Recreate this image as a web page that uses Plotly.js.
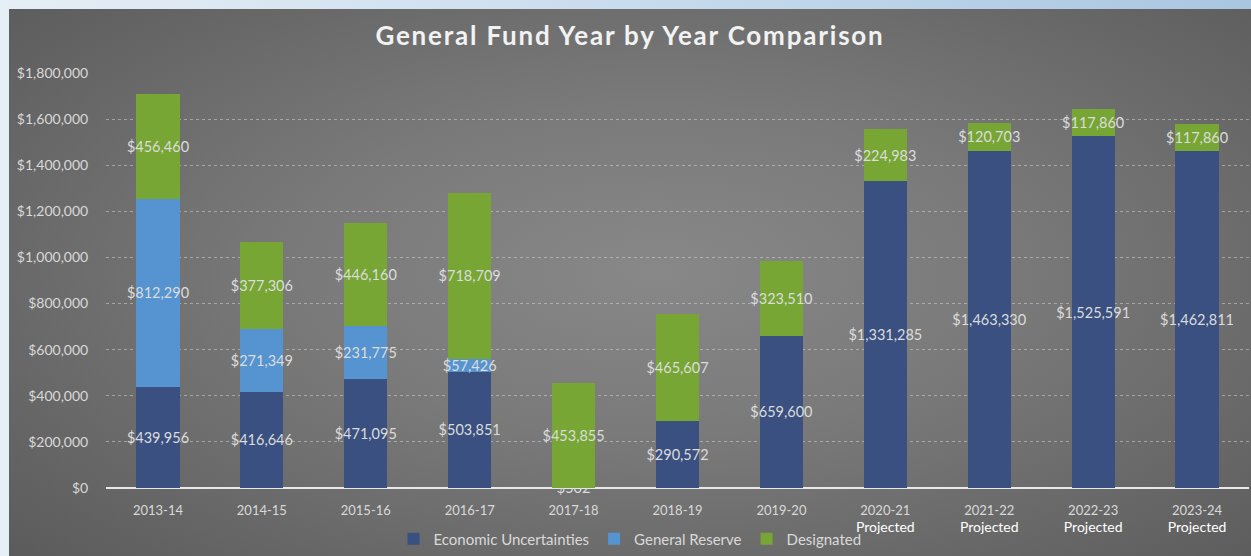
<!DOCTYPE html>
<html>
<head>
<meta charset="utf-8">
<script src="https://cdn.plot.ly/plotly-3.0.1.min.js"></script>
<style>
html, body { margin:0; padding:0; width:1251px; height:556px; overflow:hidden;
  background: linear-gradient(to right, #e6eef6, #cfe0ef 40%, #a9c6e1); }
#chart { position:absolute; left:9px; top:9px; width:1242px; height:547px;
  background: radial-gradient(ellipse 70% 75% at 52% 48%, #888888 0%, #7a7a7a 40%, #5c5c5c 100%); }
#chart .gtitle { letter-spacing: 1.8px; }
</style>
</head>
<body>
<div id="chart"></div>
<script>
const years = ["2013-14","2014-15","2015-16","2016-17","2017-18","2018-19","2019-20","2020-21","2021-22","2022-23","2023-24"];
const projected = [false,false,false,false,false,false,false,true,true,true,true];
const economicUncertainties = [439956, 416646, 471095, 503851, 502, 290572, 659600, 1331285, 1463330, 1525591, 1462811];
const generalReserve = [812290, 271349, 231775, 57426, null, null, null, null, null, null, null];
const designated = [456460, 377306, 446160, 718709, 453855, 465607, 323510, 224983, 120703, 117860, 117860];
const yTicks = [0, 200000, 400000, 600000, 800000, 1000000, 1200000, 1400000, 1600000, 1800000];

const tickText = years.map((y, i) => projected[i]
  ? y + '<br><span style="fill:#ffffff;font-size:14px">Projected</span>'
  : y);

function fmt(v) { return v == null ? '' : '$' + v.toLocaleString('en-US'); }

const labelFont = {family: 'Lato, "Open Sans", sans-serif', size: 14.5, color: '#dcdcdc'};
function series(name, vals, color) {
  return {
    type: 'bar', name: name, x: years, y: vals,
    text: vals.map(fmt), textposition: 'inside', insidetextanchor: 'middle',
    constraintext: 'none', textangle: 0, textfont: labelFont, cliponaxis: false,
    marker: {color: color, line: {width: 0}},
    hoverinfo: 'skip'
  };
}

const data = [
  series('Economic Uncertainties', economicUncertainties, '#3a5080'),
  series('General Reserve', generalReserve, '#5594d0'),
  series('Designated', designated, '#77a634')
];

const layout = {
  width: 1242, height: 547,
  paper_bgcolor: 'rgba(0,0,0,0)', plot_bgcolor: 'rgba(0,0,0,0)',
  barmode: 'stack', bargap: 0.585,
  margin: {l: 97, r: 2, t: 64, b: 68, autoexpand: false},
  font: {family: 'Lato, "Open Sans", sans-serif', color: '#d9d9d9', size: 13},
  title: {text: 'General Fund Year by Year Comparison',
          font: {family: 'Lato, "Open Sans", sans-serif', size: 26, color: '#f2f2f2', weight: 'bold'},
          x: 0.5, xanchor: 'center', y: 0.95, yanchor: 'middle'},
  xaxis: {tickvals: years, ticktext: tickText, showgrid: false, zeroline: false,
          showline: false, ticks: 'outside', ticklen: 10, tickcolor: 'rgba(0,0,0,0)',
          tickfont: {size: 13, color: '#d9d9d9'}, fixedrange: true},
  yaxis: {range: [0, 1800000], tickvals: yTicks, tickformat: '$,.0f',
          showgrid: true, gridcolor: 'rgba(210,210,210,0.55)', griddash: 'dot', gridwidth: 1,
          zeroline: true, zerolinecolor: '#e8e8e8', zerolinewidth: 2,
          showline: false, ticks: 'outside', ticklen: 14, tickcolor: 'rgba(0,0,0,0)',
          tickfont: {size: 14, color: '#d9d9d9'}, fixedrange: true},
  showlegend: true,
  legend: {orientation: 'h', x: 0.5, xanchor: 'center', xref: 'container',
           y: 0.031, yanchor: 'middle', yref: 'container',
           font: {size: 15, color: '#d9d9d9'}, traceorder: 'normal', itemwidth: 30,
           bgcolor: 'rgba(0,0,0,0)'}
};

Plotly.newPlot('chart', data, layout, {displayModeBar: false, staticPlot: true});
</script>
</body>
</html>
